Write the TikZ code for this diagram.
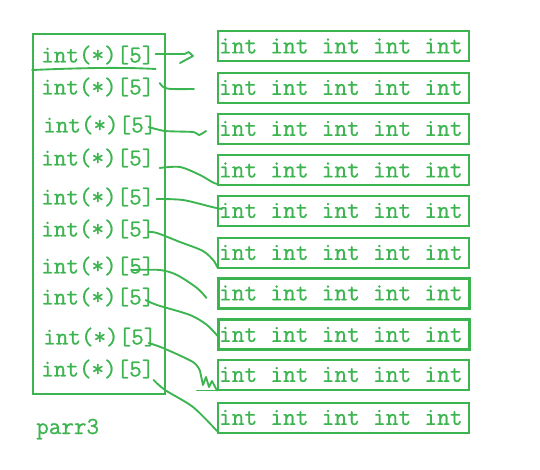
\documentclass[tikz,border=0pt]{standalone}
\usepackage{fontspec}
\newfontfamily\grmono{Latin Modern Mono}[FakeBold=0.8]
\usetikzlibrary{calc}
\definecolor{gr}{RGB}{60,180,80}
\newcommand{\fiveints}{int\hspace{.525em}int\hspace{.525em}int\hspace{.525em}int\hspace{.525em}int}
\begin{document}
\begin{tikzpicture}[x=0.75pt,y=-0.75pt,
  txt/.style={font=\grmono\fontsize{18.3}{21}\selectfont, text=gr},
  rowbox/.style={font=\grmono\fontsize{18.6}{21}\selectfont, text=gr, draw=gr, line width=1.5pt,
    inner xsep=0.75pt, inner ysep=0pt, minimum height=22.5pt, text width=186.75pt, align=left},
  thickbox/.style={rowbox, line width=2.25pt},
  lbl/.style={txt, anchor=west, inner sep=0pt},
  link/.style={draw=gr, line width=1.4pt, line cap=round, line join=round}]
\useasboundingbox (0,0) rectangle (540,469);

% left array box
\node[draw=gr, line width=1.5pt, minimum width=99pt, minimum height=270pt, inner sep=0pt] (P) at (99,214) {};

% labels
\node[lbl] (L1) at (41,55) {int(*)[5]};
\node[lbl] (L2) at (41,87) {int(*)[5]};
\node[lbl] (L3) at (43,125) {int(*)[5]};
\node[lbl] (L4) at (41,158) {int(*)[5]};
\node[lbl] (L5) at (41,197) {int(*)[5]};
\node[lbl] (L6) at (41,229) {int(*)[5]};
\node[lbl] (L7) at (41,266) {int(*)[5]};
\node[lbl] (L8) at (41,297) {int(*)[5]};
\node[lbl] (L9) at (43,337) {int(*)[5]};
\node[lbl] (L10) at (41,369) {int(*)[5]};
\node[lbl, anchor=base west] (T) at (36,434) {parr3};

% rows
\node[rowbox] (R1) at (343.5,46) {\fiveints};
\node[rowbox] (R2) at (343.5,87.5) {\fiveints};
\node[rowbox] (R3) at (343.5,128.5) {\fiveints};
\node[rowbox] (R4) at (343.5,170) {\fiveints};
\node[rowbox] (R5) at (343.5,210.5) {\fiveints};
\node[rowbox] (R6) at (343.5,252.5) {\fiveints};
\node[thickbox] (R7) at (343.5,293) {\fiveints};
\node[thickbox] (R8) at (343.5,334.5) {\fiveints};
\node[rowbox] (R9) at (343.5,374.5) {\fiveints};
\node[rowbox] (R10) at (343.5,417.5) {\fiveints};

% line under first label
\coordinate (u0) at ($(P.north west)+(0,37)$);
\coordinate (u1) at ($(L1.east)+(1,14)$);
\draw[link] (u0) .. controls (80,68) and (120,67) .. (u1);

% connectors
\coordinate (a1) at ($(L1.east)+(1,-1)$);
\coordinate (b1) at ($(R1.west)+(-24,10)$);
\draw[link] (a1) -- ++(29,0) -- ++(4,-2) -- (b1) -- ++(-13,7);

\coordinate (a2) at ($(L2.east)+(5,-4)$);
\coordinate (b2) at ($(R2.west)+(-23,1.5)$);
\draw[link] plot[smooth,tension=0.5] coordinates {(a2) (164,87.5) (172,89) (b2)};

\coordinate (a3) at ($(L3.east)+(-8,2)$);
\coordinate (b3) at ($(R3.west)+(-11,2.5)$);
\draw[link] plot[smooth,tension=0.4] coordinates {(a3) (165,131) (193,132) (199,135) (b3)};

\coordinate (a4) at ($(L4.east)+(5,10)$);
\coordinate (b4) at ($(R4.south west)+(0,-2)$);
\draw[link] plot[smooth,tension=0.5] coordinates {(a4) (180,167) (200,175) (212,182) (b4)};

\coordinate (a5) at ($(L5.east)+(2,2)$);
\coordinate (b5) at ($(R5.west)+(5,-1.5)$);
\draw[link] plot[smooth,tension=0.5] coordinates {(a5) (183,200) (212,207) (b5)};

\coordinate (a6) at ($(L6.east)+(-6,3)$);
\coordinate (b6) at ($(R6.south west)+(0,-1.5)$);
\draw[link] plot[smooth,tension=0.5] coordinates {(a6) (157,233) (180,242) (203,251) (214,261) (b6)};

\coordinate (a7) at ($(L7.east)+(-23,4)$);
\coordinate (b7) at ($(R7.west)+(-10,5)$);
\draw[link] plot[smooth,tension=0.5] coordinates {(a7) (160,270) (177,275) (197,288) (b7)};

\coordinate (a8) at ($(L8.east)+(-9,3)$);
\coordinate (b8) at ($(R8.west)+(2,2.5)$);
\draw[link] plot[smooth,tension=0.5] coordinates {(a8) (157,305) (190,315) (207,325) (b8)};

\coordinate (a9) at ($(L9.east)+(-8,6)$);
\coordinate (b9) at (R9.south west);
\draw[link] plot[smooth,tension=0.5] coordinates {(a9) (163,348) (193,362) (200,371)}
  -- (203,385) -- (206,377) -- (209,387) -- (212,381) -- (b9);
\draw[link] (R9.south west) -- ++(-20,0);

\coordinate (a10) at ($(L10.east)+(-1,11)$);
\coordinate (b10) at ($(R10.south west)+(0,-2.5)$);
\draw[link] plot[smooth,tension=0.5] coordinates {(a10) (165,390) (193,407) (b10)};
\end{tikzpicture}
\end{document}
